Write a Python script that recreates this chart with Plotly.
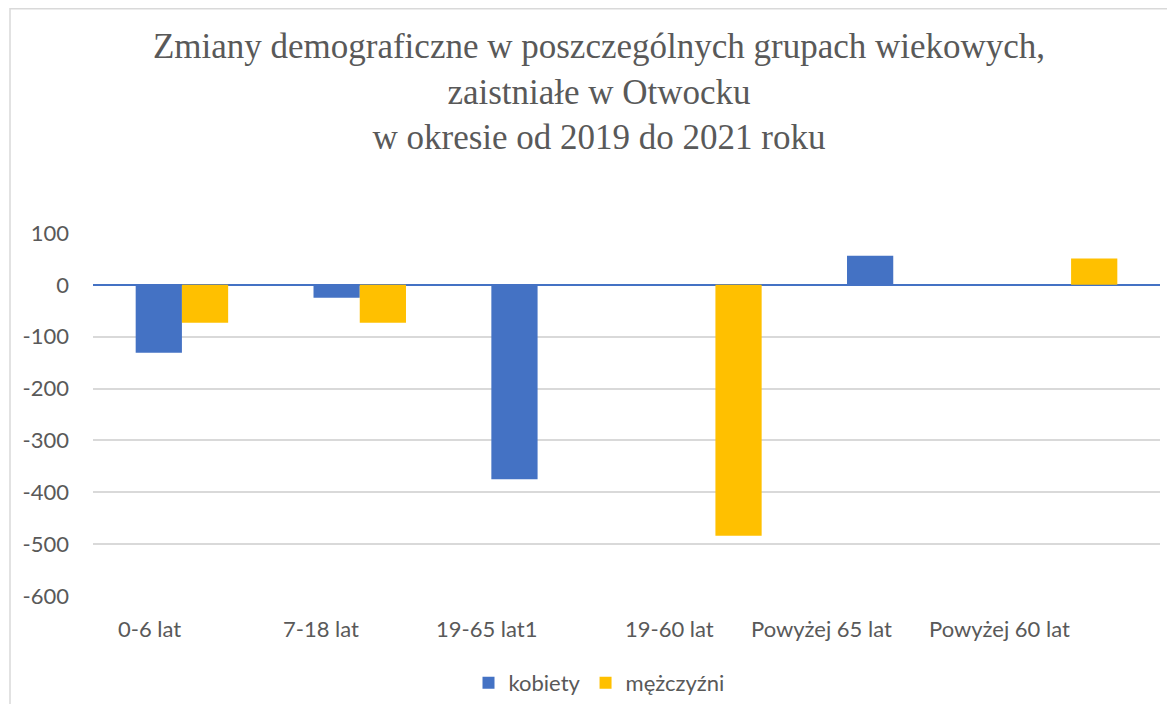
import plotly.graph_objects as go

categories = ["0-6 lat", "7-18 lat", "19-65 lat1", "19-60 lat", "Powyżej 65 lat", "Powyżej 60 lat"]
kobiety = [-131, -25, -375, None, 56, None]
mezczyzni = [-73, -73, None, -484, None, 51]
y_ticks = [100, 0, -100, -200, -300, -400, -500, -600]
y_tick_labels = ["100", "0", "-100", "-200", "-300", "-400", "-500", "-600"]

title_text = ("Zmiany demograficzne w poszczególnych grupach wiekowych,<br>"
              "zaistniałe w Otwocku<br>w okresie od 2019 do 2021 roku")

# page body has an 8px margin; figure sized to fit the window exactly
W, H = 1159, 696
L, R, T, B = 85, 7, 225, 108
pw, ph = W - L - R, H - T - B
FONT = "Lato"
GREY = "#595959"

fig = go.Figure()
fig.add_trace(go.Bar(x=categories, y=kobiety, name="kobiety",
                     marker=dict(color="#4472C4", line=dict(width=0))))
fig.add_trace(go.Bar(x=categories, y=mezczyzni, name="mężczyźni",
                     marker=dict(color="#FFC000", line=dict(width=0))))

annotations = []
for c in categories:
    annotations.append(dict(x=c, xref="x", y=(588 - 620) / ph, yref="paper",
                            text=c, showarrow=False, xanchor="right", yanchor="middle",
                            xshift=1,
                            font=dict(family=FONT, size=22, color=GREY)))

shapes = [dict(type="rect", xref="paper", yref="paper",
               x0=(2 - L) / pw, x1=(1170 - L) / pw,
               y0=(588 - 760) / ph, y1=(588 - 0.75) / ph,
               line=dict(color="#D9D9D9", width=1.5), fillcolor="rgba(0,0,0,0)", layer="below")]

fig.update_layout(
    width=W, height=H,
    margin=dict(l=L, r=R, t=T, b=B, autoexpand=False),
    paper_bgcolor="white", plot_bgcolor="white",
    title=dict(text=title_text, x=591 / W, xref="container", xanchor="center",
               y=1 - 50 / H, yref="container", yanchor="top",
               font=dict(family="Liberation Serif", size=35, color=GREY)),
    barmode="group", bargap=0.48, bargroupgap=0,
    showlegend=True,
    legend=dict(orientation="h", x=591 / W, xref="container", xanchor="center",
                y=1 - 675 / H, yref="container", yanchor="middle",
                font=dict(family=FONT, size=22, color=GREY),
                itemwidth=30),
    annotations=annotations,
    shapes=shapes,
)
fig.update_xaxes(showticklabels=False, showgrid=False, ticks="", showline=False)
fig.update_yaxes(range=[-600, 100], tickvals=y_ticks, ticktext=y_tick_labels,
                 showgrid=True, gridcolor="#D9D9D9",
                 gridwidth=1.5, zeroline=True, zerolinecolor="#4472C4", zerolinewidth=2,
                 ticks="", ticklabelstandoff=23, showline=False,
                 tickfont=dict(family=FONT, size=22, color=GREY))

fig.write_html("out.html")
